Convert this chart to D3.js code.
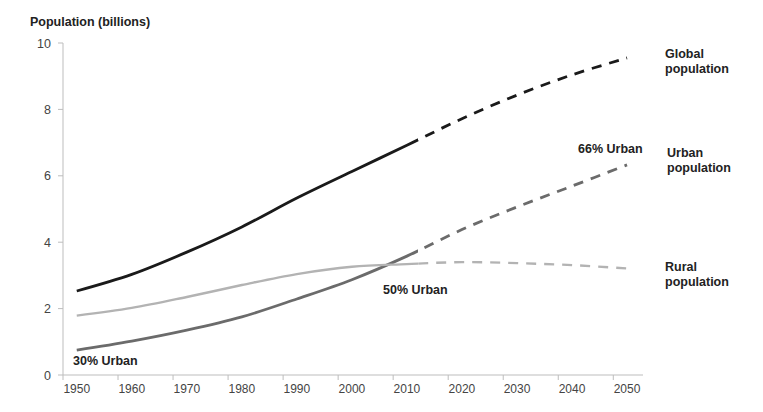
<!DOCTYPE html>
<html><head><meta charset="utf-8">
<script src="https://cdn.jsdelivr.net/npm/d3@7"></script>
<style>body{margin:0;background:#fff}svg{display:block}text{font-family:"Liberation Sans",Arial,sans-serif}</style>
</head><body><svg id="c" width="763" height="412"></svg>
<script>
const years = [1950,1960,1970,1980,1990,2000,2010,2020,2030,2040,2050];
const globalPop = [2.53,3.03,3.70,4.46,5.33,6.13,6.92,7.72,8.43,9.04,9.55];
const urbanPop  = [0.75,1.02,1.35,1.75,2.29,2.87,3.58,4.38,5.06,5.69,6.33];
const ruralPop  = [1.79,2.02,2.35,2.71,3.04,3.26,3.34,3.40,3.37,3.31,3.21];
const projectionStart = 2012;
const xTickYears = [1950,1960,1970,1980,1990,2000,2010,2020,2030,2040,2050];
const yTicks = [0,2,4,6,8,10];

const svg = d3.select("#c");
const x = d3.scaleLinear().domain([1947.5,2052.9]).range([63,643]);
const y = d3.scaleLinear().domain([0,10]).range([375,43]);

const axisColor = "#bdbdbd";
svg.append("line").attr("x1",63).attr("x2",63).attr("y1",y(10)).attr("y2",y(0)).attr("stroke",axisColor);
svg.append("line").attr("x1",63).attr("x2",643).attr("y1",y(0)).attr("y2",y(0)).attr("stroke",axisColor);
svg.selectAll(".yt").data(yTicks).join("line").attr("x1",58).attr("x2",63)
  .attr("y1",d=>y(d)).attr("y2",d=>y(d)).attr("stroke",axisColor);
svg.selectAll(".yl").data(yTicks).join("text").attr("x",51).attr("y",d=>y(d)+4.5)
  .attr("text-anchor","end").attr("font-size",12.5).attr("fill","#444").text(d=>d);
svg.selectAll(".xt").data(xTickYears).join("line")
  .attr("x1",d=>x(d-2.5)).attr("x2",d=>x(d-2.5)).attr("y1",y(0)).attr("y2",y(0)+5).attr("stroke",axisColor);
svg.selectAll(".xl").data(xTickYears).join("text").attr("x",d=>x(d)).attr("y",393)
  .attr("text-anchor","middle").attr("font-size",12).attr("fill","#444").text(d=>d);

svg.append("text").attr("x",30).attr("y",26).attr("font-size",12.5).attr("font-weight","bold")
  .attr("fill","#222").text("Population (billions)");

const defs = svg.append("defs");
defs.append("clipPath").attr("id","hist").append("rect")
  .attr("x",0).attr("y",0).attr("width",x(projectionStart)).attr("height",412);
defs.append("clipPath").attr("id","proj").append("rect")
  .attr("x",x(projectionStart)).attr("y",0).attr("width",763).attr("height",412);

const line = d3.line().x(d=>x(d[0])).y(d=>y(d[1])).curve(d3.curveCatmullRom.alpha(0.5));
const series = [
  {vals:globalPop, color:"#1a1a1a", w:2.8, dash:"10,8"},
  {vals:urbanPop, color:"#6b6b6b", w:2.8, dash:"10,8"},
  {vals:ruralPop, color:"#b3b3b3", w:2.4, dash:"10,8"}
];
series.forEach(s=>{
  const pts = years.map((yr,i)=>[yr,s.vals[i]]);
  const d = line(pts);
  svg.append("path").attr("d",d).attr("fill","none").attr("stroke",s.color)
    .attr("stroke-width",s.w).attr("clip-path","url(#hist)");
  svg.append("path").attr("d",d).attr("fill","none").attr("stroke",s.color)
    .attr("stroke-width",s.w).attr("stroke-dasharray",s.dash).attr("stroke-dashoffset",-4).attr("clip-path","url(#proj)");
});

const lab = (t,xx,yy)=>svg.append("text").attr("x",xx).attr("y",yy).attr("font-size",12.5)
  .attr("font-weight","bold").attr("fill","#222").text(t);
lab("Global",665,58); lab("population",665,73);
lab("Urban",667,157); lab("population",667,172);
lab("Rural",665,271); lab("population",665,286);
lab("66% Urban",578,153);
lab("50% Urban",383,294);
lab("30% Urban",73,365);
</script></body></html>
